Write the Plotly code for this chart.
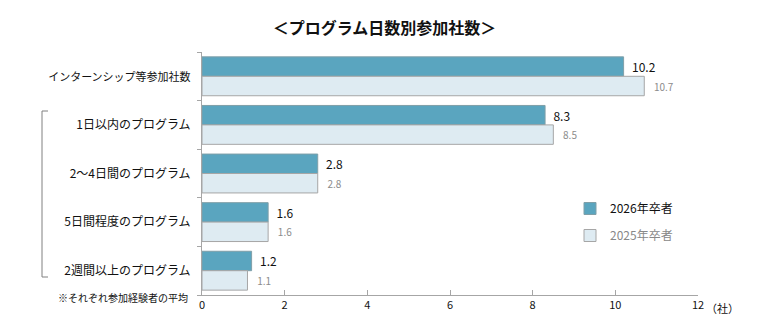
import plotly.graph_objects as go

categories = ["インターンシップ等参加社数", "1日以内のプログラム", "2～4日間のプログラム",
              "5日間程度のプログラム", "2週間以上のプログラム"]
values_2026 = [10.2, 8.3, 2.8, 1.6, 1.2]
values_2025 = [10.7, 8.5, 2.8, 1.6, 1.1]
series_names = ["2026年卒者", "2025年卒者"]
x_ticks = [0, 2, 4, 6, 8, 10, 12]

FONT = "Noto Sans CJK JP"
W, H = 769, 335
ML, MR, MT, MB = 202, 71, 52, 40
PW, PH = W - ML - MR, H - MT - MB

def px_x(x):
    return (x - ML) / PW

def px_y(y):
    return (H - MB - y) / PH

tick_text = [f"<span style='font-size:11px'>{c}</span>" if i == 0 else c
             for i, c in enumerate(categories)]

fig = go.Figure()
fig.add_trace(go.Bar(
    y=categories, x=values_2026, orientation="h", name=series_names[0],
    marker=dict(color="#5aa5bf", line=dict(color="#7f9fa8", width=1)),
    text=[f"  {v:.1f}" for v in values_2026], textposition="outside",
    textfont=dict(family=FONT, size=12, color="#111111"),
    cliponaxis=False, constraintext="none", legendgroup="a",
))
fig.add_trace(go.Bar(
    y=categories, x=values_2025, orientation="h",
    name=f"<span style='color:#888888'>{series_names[1]}</span>",
    marker=dict(color="#deebf2", line=dict(color="#a6a6a6", width=1)),
    text=[f"   {v:.1f}" for v in values_2025], textposition="outside",
    textfont=dict(family=FONT, size=10, color="#8c8c8c"),
    cliponaxis=False, constraintext="none", legendgroup="b",
))

fig.update_layout(
    width=W, height=H,
    margin=dict(l=ML, r=MR, t=MT, b=MB),
    paper_bgcolor="white", plot_bgcolor="white",
    barmode="group", bargap=0.2, bargroupgap=0,
    font=dict(family=FONT, color="#111111"),
    title=dict(text="<b>＜プログラム日数別参加社数＞</b>", x=0.5, xanchor="center",
               y=1 - 28 / H, yanchor="middle", font=dict(family=FONT, size=16, color="#111111")),
    showlegend=True,
    legend=dict(x=px_x(570), y=px_y(194), xanchor="left", yanchor="top",
                font=dict(family=FONT, size=12, color="#111111"),
                traceorder="grouped", tracegroupgap=8,
                itemwidth=30, bgcolor="rgba(0,0,0,0)"),
    xaxis=dict(range=[0, 12], tickvals=x_ticks, ticks="inside", ticklen=5,
               tickcolor="#a6a6a6", showline=True, linecolor="#a6a6a6", linewidth=1,
               showgrid=False, zeroline=False,
               tickfont=dict(family=FONT, size=11, color="#111111")),
    yaxis=dict(autorange="reversed", ticks="outside", ticklen=4, tickson="boundaries",
               tickcolor="#a6a6a6", showline=True, linecolor="#a6a6a6", linewidth=1,
               showgrid=False, ticklabelstandoff=8,
               tickmode="array", tickvals=categories, ticktext=tick_text,
               tickfont=dict(family=FONT, size=12, color="#111111")),
)

# bracket for the program breakdown
bx, btop, bbot = 42, 111, 277
for shp in [
    dict(x0=px_x(bx), x1=px_x(bx), y0=px_y(btop), y1=px_y(bbot)),
    dict(x0=px_x(bx), x1=px_x(bx + 6), y0=px_y(btop), y1=px_y(btop)),
    dict(x0=px_x(bx), x1=px_x(bx + 6), y0=px_y(bbot), y1=px_y(bbot)),
]:
    fig.add_shape(type="line", xref="paper", yref="paper",
                  line=dict(color="#808080", width=1), **shp)

fig.add_annotation(text="※それぞれ参加経験者の平均", xref="paper", yref="paper",
                   x=px_x(190), y=px_y(297), xanchor="right", yanchor="middle",
                   showarrow=False, font=dict(family=FONT, size=10, color="#111111"))
fig.add_annotation(text="（社）", xref="paper", yref="paper",
                   x=px_x(704), y=px_y(308), xanchor="left", yanchor="middle",
                   showarrow=False, font=dict(family=FONT, size=11, color="#111111"))

fig.write_html("out.html")
